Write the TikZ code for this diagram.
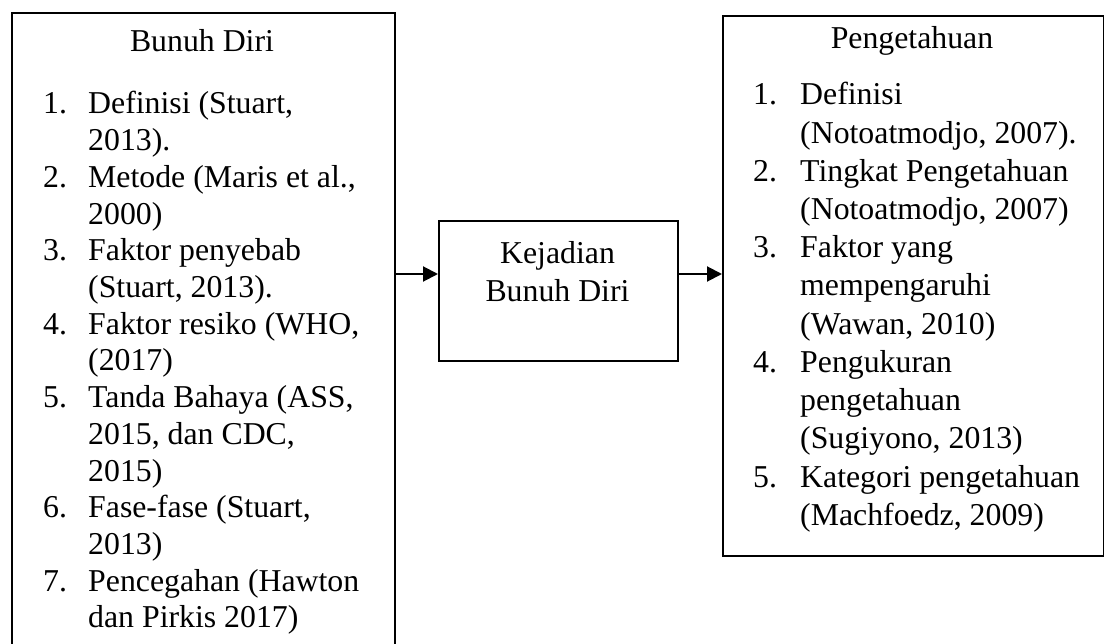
\documentclass[tikz,border=0pt]{standalone}
\usepackage{fontspec}
\setmainfont{Liberation Serif}
\usetikzlibrary{arrows.meta}
\tikzset{
  boxline/.style={draw=black, line width=2pt, inner sep=0pt, anchor=north west},
  txt/.style={inner sep=0pt, anchor=base west, font=\fontsize{31.8}{36.7}\selectfont},
  ctxt/.style={inner sep=0pt, anchor=base, font=\fontsize{31.8}{36.7}\selectfont},
  arr/.style={line width=2pt, -{Triangle[length=15pt,width=15pt]}}
}
\begin{document}
\begin{tikzpicture}[x=1pt,y=-1pt]
\useasboundingbox (0,0) rectangle (1104,644);
\clip (0,0) rectangle (1104,644);
\fill[white] (0,0) rectangle (1104,644);
% boxes
\node[boxline, minimum width=383pt, minimum height=660pt] (leftbox) at (11,12) {};
\node[boxline, minimum width=239pt, minimum height=140pt] (midbox) at (438,220) {};
\node[boxline, minimum width=380.5pt, minimum height=540pt] (rightbox) at (722,15) {};
% left box text
\node[ctxt] (ltitle) at (202,52) {Bunuh Diri};
\foreach \t [count=\i from 0] in {{Definisi (Stuart,},{2013).},{Metode (Maris et al.,},{2000)},{Faktor penyebab},{(Stuart, 2013).},{Faktor resiko (WHO,},{(2017)},{Tanda Bahaya (ASS,},{2015, dan CDC,},{2015)},{Fase-fase (Stuart,},{2013)},{Pencegahan (Hawton},{dan Pirkis 2017)}}
  \node[txt] (lt\i) at (88,{114+\i*36.7}) {\t};
\foreach \n/\k in {1/0,2/2,3/4,4/6,5/8,6/11,7/13}
  \node[txt] (ln\n) at (43,{114+\k*36.7}) {\n.};
% middle box text
\node[ctxt] (mt1) at (557.5,264) {Kejadian};
\node[ctxt] (mt2) at (557.5,302) {Bunuh Diri};
% right box text
\node[ctxt] (rtitle) at (912,49) {Pengetahuan};
\foreach \t [count=\i from 0] in {{Definisi},{(Notoatmodjo, 2007).},{Tingkat Pengetahuan},{(Notoatmodjo, 2007)},{Faktor yang},{mempengaruhi},{(Wawan, 2010)},{Pengukuran},{pengetahuan},{(Sugiyono, 2013)},{Kategori pengetahuan},{(Machfoedz, 2009)}}
  \node[txt] (rt\i) at (800,{105+\i*38.2}) {\t};
\foreach \n/\k in {1/0,2/2,3/4,4/7,5/10}
  \node[txt] (rn\n) at (753,{105+\k*38.2}) {\n.};
% connectors
\coordinate (ay) at (0,274);
\draw[arr] (leftbox.east |- ay) -- (midbox.west |- ay);
\draw[arr] (midbox.east |- ay) -- (rightbox.west |- ay);
\end{tikzpicture}
\end{document}
